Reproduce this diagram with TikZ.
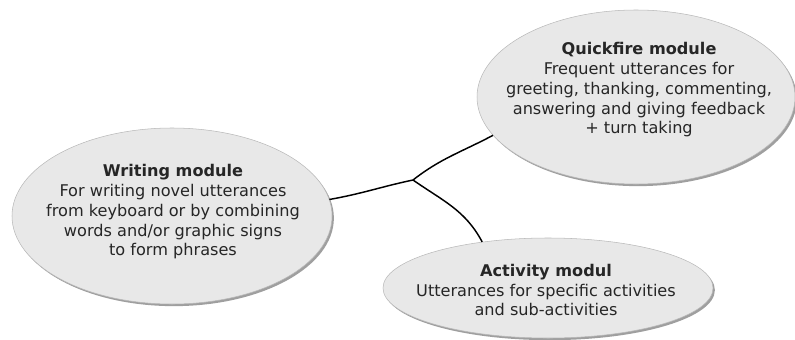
\documentclass[tikz,border=0pt]{standalone}
\usepackage{fontspec}
\setmainfont{DejaVu Sans}
\usetikzlibrary{shapes.geometric,shadows}
\tikzset{
    module/.style={
        ellipse,
        draw=gray!55,
        thin,
        fill=gray!18,
        inner sep=0pt,
        drop shadow={shadow xshift=1.4pt, shadow yshift=-1.6pt, fill=gray!75, opacity=1}
    },
    module text/.style={
        align=center,
        text=black!85,
        font=\fontsize{12.1}{14.8}\selectfont
    },
    link/.style={
        black,
        line width=1.1pt
    }
}

\begin{document}
\begin{tikzpicture}[x=0.75pt,y=-0.75pt]
\useasboundingbox (0,0) rectangle (795,339);
% the three modules
\node[module, minimum width=240pt, minimum height=132pt] (writing) at (172,216) {};
\node[module, minimum width=238.5pt, minimum height=130.5pt] (quick) at (636,97) {};
\node[module, minimum width=247.5pt, minimum height=75pt] (activity) at (548,288) {};
\node[module text] (writing text) at (173,212) {\textbf{Writing module}\\For writing novel utterances\\from keyboard or by combining\\words and/or graphic signs\\to form phrases};
\node[module text] (quick text) at (639,90) {\textbf{Quickfire module}\\Frequent utterances for\\greeting, thanking, commenting,\\answering and giving feedback\\+ turn taking};
\node[module text] (activity text) at (546,290) {\textbf{Activity modul}\\Utterances for specific activities\\and sub-activities};
% connectors
\coordinate (hub) at (413,180);
\draw[link] (writing.6) to[out=10,in=192] (hub);
\draw[link] (hub) to[out=38,in=208] (quick.195);
\draw[link] (hub) to[out=-35,in=118] (activity.145);
\end{tikzpicture}
\end{document}
